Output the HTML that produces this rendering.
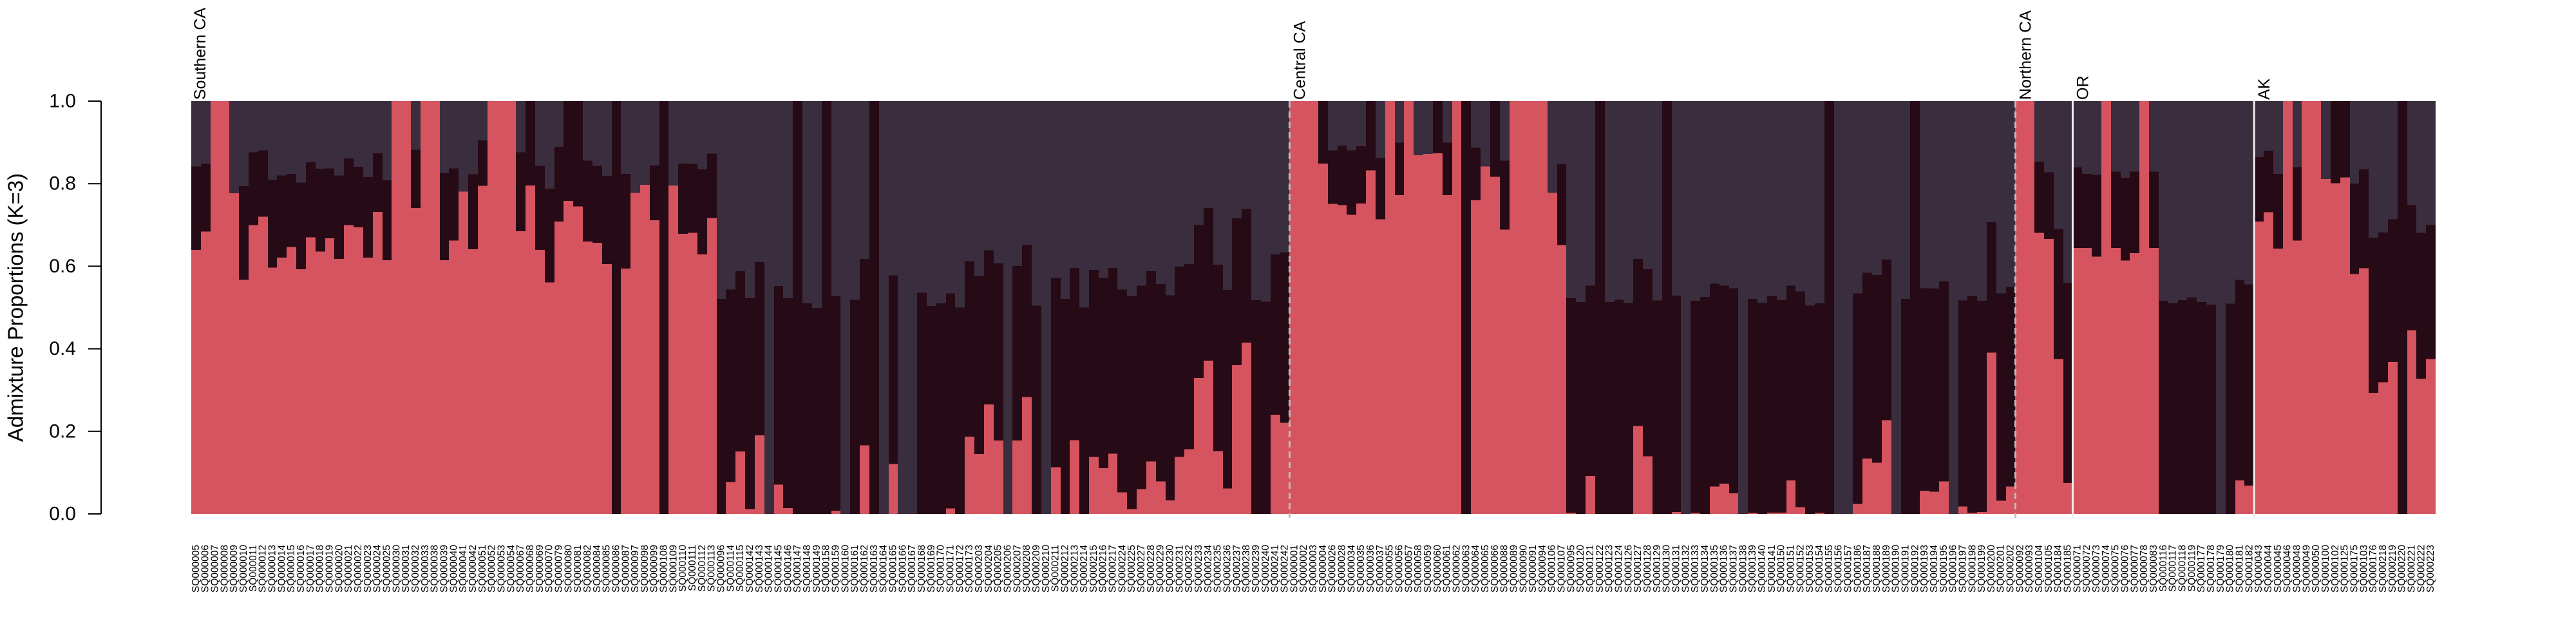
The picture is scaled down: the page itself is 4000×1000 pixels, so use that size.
<!DOCTYPE html>
<html><head><meta charset="utf-8"><title>Admixture K=3</title>
<style>html,body{margin:0;padding:0;background:#fff;}svg{display:block;font-family:"Liberation Sans",Arial,sans-serif;}</style>
</head><body>
<svg id="chart" width="4000" height="1000" viewBox="0 0 4000 1000" xmlns="http://www.w3.org/2000/svg"></svg>
<script>
const sampleIds = ["005","006","007","008","009","010","011","012","013","014","015","016","017","018","019","020","021","022","023","024","025","030","031","032","033","038","039","040","041","042","051","052","053","054","067","068","069","070","079","080","081","082","084","085","086","087","097","098","099","108","109","110","111","112","113","096","114","115","142","143","144","145","146","147","148","149","158","159","160","161","162","163","164","165","166","167","168","169","170","171","172","173","203","204","205","206","207","208","209","210","211","212","213","214","215","216","217","224","225","227","228","229","230","231","232","233","234","235","236","237","238","239","240","241","242",
"001","002","003","004","026","028","034","035","036","037","055","056","057","058","059","060","061","062","063","064","065","066","088","089","090","091","094","106","107","095","120","121","122","123","124","126","127","128","129","130","131","132","133","134","135","136","137","138","139","140","141","150","151","152","153","154","155","156","157","186","187","188","189","190","191","192","193","194","195","196","197","198","199","200","201","202",
"092","093","104","105","184","185",
"071","072","073","074","075","076","077","078","083","116","117","118","119","177","178","179","180","181","182",
"043","044","045","046","048","049","050","100","102","125","175","103","176","218","219","220","221","222","223"];
const cluster1 = [.64,.684,1,1,.777,.567,.70,.72,.597,.621,.647,.593,.67,.636,.668,.618,.70,.694,.621,.732,.615,1,1,.741,1,1,.615,.662,.781,.641,.795,1,1,1,.685,.796,.64,.561,.708,.758,.745,.66,.657,.605,0,.594,.778,.797,.711,0,.796,.679,.681,.629,.717,0,.077,.151,.012,.19,0,.071,.014,0,0,0,0,.008,0,0,.166,0,0,.121,0,0,0,0,0,.013,0,.187,.145,.265,.178,0,.178,.283,0,0,.113,0,.179,0,.138,.111,.146,.052,.012,.06,.127,.079,.033,.138,.157,.329,.371,.152,.062,.36,.415,0,0,.24,.221,
1,1,1,.849,.751,.748,.725,.752,.832,.714,1,.772,1,.869,.872,.874,.772,1,0,.76,.842,.817,.689,1,1,1,1,.778,.651,.002,0,.092,0,0,0,0,.213,.14,0,0,.005,0,.002,0,.066,.073,.05,0,.002,0,.003,.003,.081,.016,0,.002,0,0,0,.024,.134,.124,.227,0,0,0,.056,.054,.079,0,.018,.002,.005,.391,.032,.066,
1,1,.681,.666,.375,.075,
.644,.644,.623,1,.644,.614,.632,1,.644,0,0,0,0,0,0,0,0,.081,.069,
.708,.731,.643,1,.662,1,1,.811,.801,.815,.581,.595,.293,.319,.368,0,.445,.328,.375];
const cluster2 = [.202,.165,0,0,0,.227,.176,.161,.213,.199,.177,.21,.182,.20,.169,.202,.161,.147,.195,.142,.193,0,0,.141,0,0,.211,.175,0,.182,.11,0,0,0,.191,.204,.203,.227,.181,.242,.255,.196,.186,.214,1,.23,0,0,.133,1,0,.17,.167,.206,.156,.521,.467,.437,.511,.42,0,.481,.509,1,.51,.499,1,.519,0,.519,.452,1,0,.457,0,0,.536,.504,.51,.521,.50,.425,.431,.374,.429,0,.423,.369,.505,0,.459,.521,.417,.50,.453,.461,.45,.492,.515,.493,.461,.478,.497,.461,.448,.371,.37,.452,.481,.356,.324,.518,.514,.389,.412,
0,0,0,.151,.13,.144,.156,.139,.168,.148,0,.127,0,0,0,.126,.127,0,1,.127,0,.183,.167,0,0,0,0,0,.197,.521,.513,.461,1,.513,.519,.511,.405,.453,.517,1,.524,0,.514,.526,.492,.48,.497,0,.519,.511,.524,.515,.472,.523,.505,.508,1,0,0,.51,.45,.455,.389,0,.521,1,.491,.492,.484,0,.499,.525,.511,.316,.502,.484,
0,0,.172,.162,.315,.484,
.195,.18,.198,0,.185,.20,.197,0,.185,.516,.51,.518,.524,.513,.507,0,.509,.486,.487,
.156,.149,.181,0,.178,0,0,0,.199,.185,.219,.24,.376,.363,.346,1,.303,.353,.325];
const groupNames = ["Southern CA","Central CA","Northern CA","OR","AK"];
const groupStarts = [0,115,191,197,216];
const yTicks = [0,0.2,0.4,0.6,0.8,1.0];
const yTickLabels = ["0.0","0.2","0.4","0.6","0.8","1.0"];

const NS="http://www.w3.org/2000/svg";
const svg=document.getElementById('chart');
const PL=297, PR=3782, PT=157, PB=798;
const N=sampleIds.length;
const bw=(PR-PL)/N;
function xPos(i){return PL+i*bw;}
function yPos(v){return PB-v*(PB-PT);}
function mk(tag,attrs){const e=document.createElementNS(NS,tag);for(const k in attrs)e.setAttribute(k,attrs[k]);return e;}
const COL1="#D5545F", COL2="#260A15", COL3="#3A2D3E";

const barsG=mk('g',{'shape-rendering':'crispEdges'});


svg.appendChild(barsG);
for(let i=0;i<N;i++){
  const a=cluster1[i], b=cluster2[i];
  const x0=Math.round(xPos(i)), x1=Math.round(xPos(i+1));
  const g=mk('g',{});
  
  
  const r3=mk('rect',{x:x0,y:yPos(1),width:x1-x0,height:yPos(a+b)-yPos(1),fill:COL3});
  
  
  const r2=mk('rect',{x:x0,y:yPos(a+b),width:x1-x0,height:yPos(a)-yPos(a+b),fill:COL2});
  
  
  const r1=mk('rect',{x:x0,y:yPos(a),width:x1-x0,height:yPos(0)-yPos(a),fill:COL1});
  
  
  g.appendChild(r3);g.appendChild(r2);g.appendChild(r1);
  barsG.appendChild(g);
  const t=mk('text',{x:0,y:0,'font-size':15.5,fill:'#000','text-anchor':'end','dominant-baseline':'central',transform:'translate('+(xPos(i)+bw/2)+',846) rotate(-90)'});
  t.textContent='SQ000'+sampleIds[i];
  
  
  svg.appendChild(t);
}
for(let k=0;k<groupNames.length;k++){
  const x=xPos(groupStarts[k]);
  if(k>0){
    const dashed=(k<=2);
    const ln=mk('line',{x1:x,x2:x,y1:PT,y2:PB+6,stroke:dashed?'#BDBDBD':'#EEEEEE','stroke-width':3});
    if(dashed) ln.setAttribute('stroke-dasharray','10,6');
    
    
    svg.appendChild(ln);
  }
  const t=mk('text',{x:0,y:0,'font-size':25,fill:'#000','text-anchor':'start',transform:'translate('+(x+(k==0?22:24))+','+(PT-2)+') rotate(-90)'});
  t.textContent=groupNames[k];
  
  
  svg.appendChild(t);
}
const ax=mk('line',{x1:157,x2:157,y1:PT,y2:PB,stroke:'#000','stroke-width':2});


svg.appendChild(ax);
for(let j=0;j<yTicks.length;j++){
  const y=yPos(yTicks[j]);
  const tk=mk('line',{x1:137,x2:157,y1:y,y2:y,stroke:'#000','stroke-width':2});
  
  
  svg.appendChild(tk);
  const tl=mk('text',{x:118,y:y,'font-size':30,fill:'#000','text-anchor':'end','dominant-baseline':'central'});
  tl.textContent=yTickLabels[j];
  
  
  svg.appendChild(tl);
}
const yt=mk('text',{x:0,y:0,'font-size':33,fill:'#000','text-anchor':'middle','dominant-baseline':'central',transform:'translate(24,'+((PT+PB)/2)+') rotate(-90)'});
yt.textContent='Admixture Proportions (K=3)';


svg.appendChild(yt);
</script>
</body></html>
